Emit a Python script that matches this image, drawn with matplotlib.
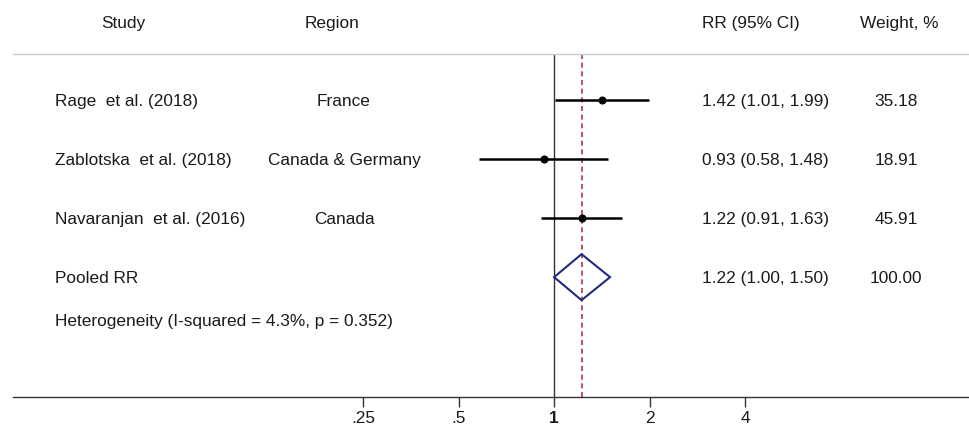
import matplotlib
matplotlib.use("Agg")
import matplotlib.pyplot as plt
from matplotlib.patches import Polygon
from matplotlib.transforms import blended_transform_factory

plt.rcParams['font.family'] = ['Liberation Sans', 'DejaVu Sans']

# --- data ---
studies = ["Rage  et al. (2018)", "Zablotska  et al. (2018)", "Navaranjan  et al. (2016)"]
regions = ["France", "Canada & Germany", "Canada"]
rr = [1.42, 0.93, 1.22]
ci_lo = [1.01, 0.58, 0.91]
ci_hi = [1.99, 1.48, 1.63]
weights = [35.18, 18.91, 45.91]
pooled_rr, pooled_lo, pooled_hi = 1.22, 1.00, 1.50
pooled_weight = 100.00
heterogeneity = "Heterogeneity (I-squared = 4.3%, p = 0.352)"
tick_vals = [0.25, 0.5, 1, 2, 4]
tick_labels = [".25", ".5", "1", "2", "4"]

W, H = 970, 429
fig = plt.figure(figsize=(W / 100, H / 100), dpi=100)
ax = fig.add_axes([13 / W, 1 - 397 / H, 1 - 13 / W, (397 - 54) / H])

ax.set_xscale('log', base=2)
ax.set_xlim(2 ** -5.66, 2 ** 4.35)
ax.set_ylim(5.03, -0.78)

txt_color = '#1a1a1a'
fs = 12.4

# reference lines
ax.axvline(1, color='#333333', lw=1.0, zorder=1)
ax.axvline(pooled_rr, color='#a8384a', lw=1.2, ls=(0, (3, 2.2)), zorder=1)

# study rows
rows = list(range(len(studies)))
for i in rows:
    ax.plot([ci_lo[i], ci_hi[i]], [i, i], color='black', lw=1.8, solid_capstyle='butt', zorder=3)
    ax.plot(rr[i], i, 'o', color='black', ms=4.8, zorder=4)

# pooled diamond
prow = len(studies)
h = 0.39
diamond = Polygon([(pooled_lo, prow), (pooled_rr, prow - h), (pooled_hi, prow), (pooled_rr, prow + h)],
                  closed=True, fill=False, edgecolor='#1f2a80', lw=1.5, zorder=4)
ax.add_patch(diamond)

# spines / ticks
for s in ['left', 'right']:
    ax.spines[s].set_visible(False)
ax.spines['top'].set_color('#cccccc')
ax.spines['top'].set_linewidth(1.0)
ax.spines['bottom'].set_color('#333333')
ax.spines['bottom'].set_linewidth(1.0)
ax.set_yticks([])
ax.set_xticks(tick_vals)
ax.set_xticklabels(tick_labels)
ax.minorticks_off()
ax.tick_params(axis='x', direction='out', length=7.5, width=1.0, color='#333333',
               labelsize=fs, labelcolor=txt_color, pad=2.5)
ax.get_xticklabels()[2].set_fontweight('bold')

# text columns (x in figure pixels / W, y in data rows)
tr = blended_transform_factory(fig.transFigure, ax.transData)
x_study, x_region, x_rr, x_w = 55 / W, 344 / W, 702 / W, 896 / W
kw = dict(transform=tr, va='center_baseline', fontsize=fs, color=txt_color)

for i in rows:
    ax.text(x_study, i, studies[i], ha='left', **kw)
    ax.text(x_region, i, regions[i], ha='center', **kw)
    ax.text(x_rr, i, "%.2f (%.2f, %.2f)" % (rr[i], ci_lo[i], ci_hi[i]), ha='left', **kw)
    ax.text(x_w, i, "%.2f" % weights[i], ha='center', **kw)

ax.text(x_study, prow, "Pooled RR", ha='left', **kw)
ax.text(x_rr, prow, "%.2f (%.2f, %.2f)" % (pooled_rr, pooled_lo, pooled_hi), ha='left', **kw)
ax.text(x_w, prow, "%.2f" % pooled_weight, ha='center', **kw)
ax.text(x_study, prow + 0.72, heterogeneity, ha='left', **kw)

# headers
hy = 1 - 22 / H
hkw = dict(va='center_baseline', fontsize=fs, color=txt_color)
fig.text(123 / W, hy, "Study", ha='center', **hkw)
fig.text(332 / W, hy, "Region", ha='center', **hkw)
fig.text(x_rr, hy, "RR (95% CI)", ha='left', **hkw)
fig.text(899 / W, hy, "Weight, %", ha='center', **hkw)

fig.savefig('out.png', dpi=100)
